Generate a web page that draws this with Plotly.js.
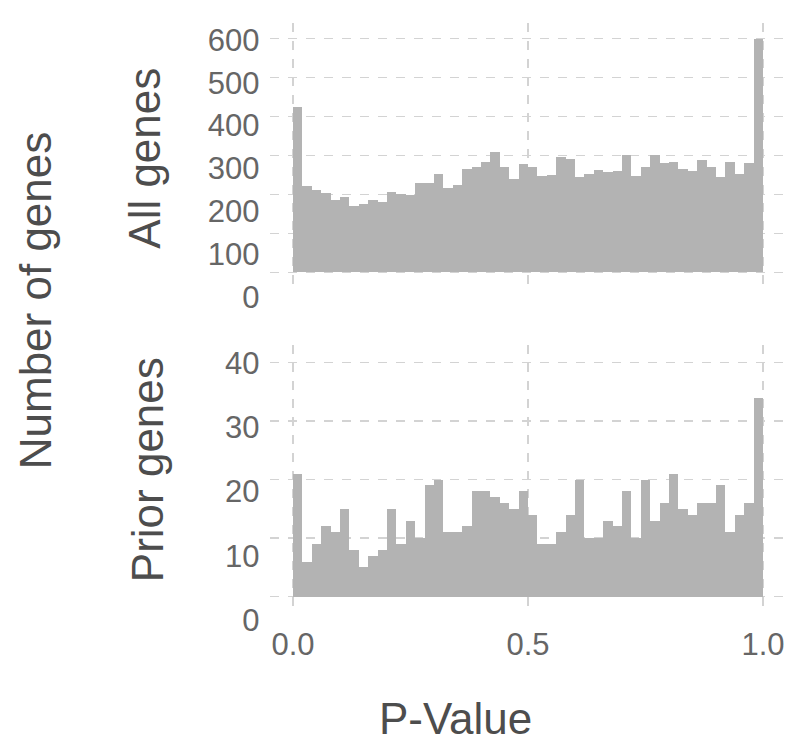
<!DOCTYPE html>
<html>
<head>
<meta charset="utf-8">
<script src="https://cdn.plot.ly/plotly-3.0.1.min.js"></script>
<style>
  html, body { margin: 0; padding: 0; background: #fff; }
  #chart { width: 800px; height: 752px; }
</style>
</head>
<body>
<div id="chart"></div>
<script>
// p-value histogram, 50 bins over [0, 1]
const binCount = 50;
const allGenes = [
    423, 220, 211, 204, 186, 192, 171, 176, 185, 181,
    207, 200, 197, 230, 228, 251, 216, 225, 264, 271,
    284, 308, 271, 238, 277, 271, 247, 249, 296, 291,
    245, 252, 262, 258, 260, 301, 247, 269, 301, 280,
    284, 266, 260, 287, 269, 245, 284, 251, 280, 599
];
const priorGenes = [
    21, 6, 9, 12, 11, 15, 8, 5, 7, 8,
    15, 9, 13, 10, 19, 20, 11, 11, 12, 18,
    18, 17, 16, 15, 18, 14, 9, 9, 11, 14,
    20, 10, 10, 13, 12, 18, 10, 20, 13, 16,
    21, 15, 14, 16, 16, 19, 11, 14, 16, 34
];
const xTicks = [0, 0.5, 1];
const xTickText = ['0.0', '0.5', '1.0'];
const panelTitles = ['All genes', 'Prior genes'];

const binWidth = 1 / binCount;
const binCenters = allGenes.map((_, i) => (i + 0.5) * binWidth);

const FONT = 'Liberation Sans, Arial, sans-serif';
const tickColor = '#666666';
const titleColor = '#4d4d4d';
const barColor = '#b3b3b3';
const gridColor = '#d3d3d3';

const xDomain = [0.3369, 0.9831];

function barTrace(values, xa, ya) {
    return {
        type: 'bar',
        x: binCenters,
        y: values,
        width: binWidth,
        marker: { color: barColor, line: { width: 0 } },
        xaxis: xa,
        yaxis: ya,
        hoverinfo: 'x+y',
        showlegend: false
    };
}

// empty traces so the label-only axes get drawn
function labelAxisTrace(xa, ya) {
    return { type: 'scatter', mode: 'markers', x: [null], y: [null], xaxis: xa, yaxis: ya, showlegend: false, hoverinfo: 'skip' };
}

const data = [
    barTrace(allGenes, 'x2', 'y'),
    barTrace(priorGenes, 'x', 'y2'),
    labelAxisTrace('x3', 'y3'),
    labelAxisTrace('x4', 'y4')
];

const gridAxis = {
    showgrid: true,
    gridcolor: gridColor,
    gridwidth: 1.3,
    griddash: 'dash',
    zeroline: false,
    showline: false,
    ticks: ''
};

// tick labels sit on their own axes, spaced a little wider than the grid
const labelAxis = {
    showgrid: false,
    zeroline: false,
    showline: false,
    ticks: '',
    anchor: 'free',
    position: xDomain[0],
    ticklabelstandoff: 10,
    tickfont: { family: FONT, size: 31, color: tickColor }
};

const hiddenX = { domain: xDomain, visible: false, showgrid: false, zeroline: false, range: [0, 1] };

const layout = {
    width: 800,
    height: 752,
    margin: { l: 0, r: 0, t: 0, b: 0 },
    paper_bgcolor: '#ffffff',
    plot_bgcolor: 'rgba(0,0,0,0)',
    bargap: 0,
    showlegend: false,
    font: { family: FONT, color: tickColor },
    xaxis: Object.assign({}, gridAxis, {
        domain: xDomain,
        range: [-0.05, 1.05],
        anchor: 'y2',
        tickvals: xTicks,
        ticktext: xTickText,
        ticklabelstandoff: 15,
        tickfont: { family: FONT, size: 31, color: tickColor }
    }),
    xaxis2: Object.assign({}, gridAxis, {
        domain: xDomain,
        range: [-0.05, 1.05],
        anchor: 'y',
        matches: 'x',
        tickvals: xTicks,
        showticklabels: false
    }),
    xaxis3: Object.assign({}, hiddenX, { anchor: 'y3' }),
    xaxis4: Object.assign({}, hiddenX, { anchor: 'y4' }),
    yaxis: Object.assign({}, gridAxis, {
        domain: [0.6146, 0.9698],
        range: [-45, 640],
        anchor: 'x2',
        tick0: 0,
        dtick: 100,
        showticklabels: false
    }),
    yaxis2: Object.assign({}, gridAxis, {
        domain: [0.1910, 0.5412],
        range: [-2, 43],
        anchor: 'x',
        tick0: 0,
        dtick: 10,
        showticklabels: false
    }),
    yaxis3: Object.assign({}, labelAxis, {
        domain: [0.6011, 0.9601],
        range: [-7.7, 623.4],
        tick0: 0,
        dtick: 100
    }),
    yaxis4: Object.assign({}, labelAxis, {
        domain: [0.1622, 0.5346],
        range: [-1.56, 42.02],
        tick0: 0,
        dtick: 10
    }),
    annotations: [
        {
            text: 'Number of genes', xref: 'paper', yref: 'paper',
            x: 0.044, y: 0.601, textangle: -90, showarrow: false,
            xanchor: 'center', yanchor: 'middle',
            font: { family: FONT, size: 44, color: titleColor }
        },
        {
            text: panelTitles[0], xref: 'paper', yref: 'paper',
            x: 0.181, y: 0.79, textangle: -90, showarrow: false,
            xanchor: 'center', yanchor: 'middle',
            font: { family: FONT, size: 44, color: titleColor }
        },
        {
            text: panelTitles[1], xref: 'paper', yref: 'paper',
            x: 0.184, y: 0.375, textangle: -90, showarrow: false,
            xanchor: 'center', yanchor: 'middle',
            font: { family: FONT, size: 44, color: titleColor }
        },
        {
            text: 'P-Value', xref: 'paper', yref: 'paper',
            x: 0.57, y: 0.045, showarrow: false,
            xanchor: 'center', yanchor: 'middle',
            font: { family: FONT, size: 44, color: titleColor }
        }
    ]
};

Plotly.newPlot('chart', data, layout, { displayModeBar: false, staticPlot: true });
</script>
</body>
</html>
